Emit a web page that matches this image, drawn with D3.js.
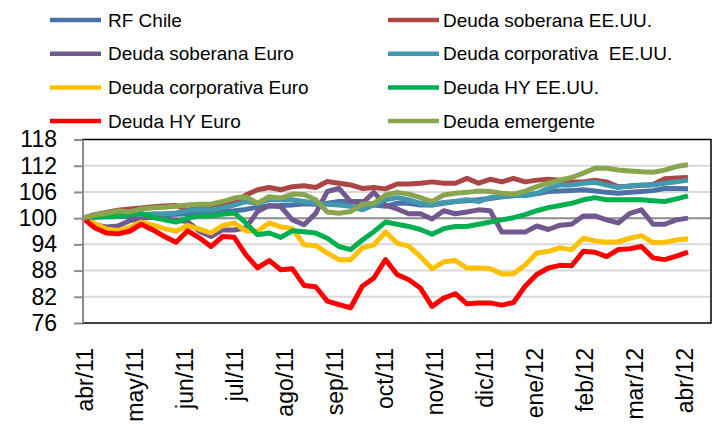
<!DOCTYPE html>
<html>
<head>
<meta charset="utf-8">
<script src="https://cdn.jsdelivr.net/npm/d3@7"></script>
<style>
  body { margin: 0; background: #fff; }
  text { font-family: "Liberation Sans", Arial, sans-serif; fill: #000; }
</style>
</head>
<body>
<svg id="chart" width="715" height="428"></svg>
<script>
// weekly index values, base 100 = abr/11
var rfChile = [100, 100.2, 100.3, 100.4, 100.5, 100.6, 100.7, 100.8, 100.9, 101.0, 101.1, 101.3, 101.5, 101.7, 102.0, 102.5, 102.7, 102.9, 103.0, 103.3, 103.2, 103.4, 103.8, 103.8, 103.8, 103.0, 102.7, 103.4, 103.4, 103.0, 103.0, 103.4, 103.8, 104.0, 104.2, 104.5, 104.9, 105.1, 105.3, 105.6, 106.1, 106.2, 106.3, 106.5, 106.2, 105.9, 105.7, 105.9, 106.1, 106.3, 106.8, 106.8, 106.7];
var soberanaUS = [100, 100.8, 101.3, 101.8, 102.1, 102.3, 102.6, 102.8, 102.9, 101.8, 102.3, 102.8, 103.0, 103.4, 105.3, 106.5, 107.0, 106.5, 107.2, 107.4, 107.0, 108.4, 108.0, 107.6, 106.8, 107.0, 106.7, 107.8, 107.8, 108.0, 108.3, 108.0, 108.0, 109.1, 108.0, 108.9, 108.3, 109.1, 108.3, 108.7, 108.9, 108.7, 108.3, 108.3, 108.7, 108.3, 107.2, 107.3, 107.5, 107.7, 109.0, 109.2, 109.3];
var soberanaEuro = [100, 98.5, 98.0, 98.2, 99.4, 100.0, 100.2, 99.8, 99.5, 99.2, 97.0, 95.8, 97.3, 97.3, 97.8, 101.5, 102.9, 102.6, 99.6, 98.5, 101.1, 106.1, 106.8, 103.8, 103.4, 105.9, 103.0, 102.1, 101.0, 101.0, 99.8, 101.7, 101.0, 101.4, 101.9, 101.7, 96.8, 96.8, 96.8, 98.2, 97.4, 98.4, 98.6, 100.5, 100.5, 99.6, 98.9, 101.1, 101.9, 98.6, 98.6, 99.6, 100.0];
var corporativaUS = [100, 100.3, 100.6, 100.8, 101.0, 100.8, 101.0, 101.0, 101.2, 101.7, 102.0, 101.9, 102.4, 103.0, 103.8, 103.4, 104.2, 104.2, 104.2, 103.8, 103.4, 103.2, 103.0, 102.7, 101.9, 103.0, 104.2, 104.7, 104.2, 103.4, 103.0, 103.6, 103.8, 104.2, 103.8, 104.7, 104.9, 105.3, 105.1, 105.7, 106.8, 107.6, 107.6, 108.0, 108.2, 107.6, 107.0, 107.4, 107.6, 107.6, 108.0, 108.3, 108.7];
var corporativaEuro = [100, 98.8, 97.5, 97.2, 97.8, 99.1, 98.4, 97.6, 97.0, 98.3, 97.5, 96.6, 98.3, 98.9, 97.1, 97.0, 98.9, 98.0, 97.6, 93.9, 93.7, 92.0, 90.5, 90.5, 93.2, 93.9, 96.8, 94.3, 93.6, 91.2, 88.4, 90.0, 90.3, 88.6, 88.6, 88.5, 87.2, 87.3, 89.3, 92.0, 92.4, 93.2, 92.8, 95.4, 94.8, 94.5, 94.6, 95.4, 96.0, 94.4, 94.5, 95.0, 95.3];
var hyUS = [100, 100.3, 100.4, 100.4, 100.8, 101.1, 100.2, 99.6, 99.1, 100.0, 100.5, 100.5, 100.9, 101.2, 98.9, 96.2, 96.6, 95.6, 97.1, 96.9, 96.6, 95.4, 93.5, 92.8, 95.0, 96.9, 99.1, 98.6, 98.1, 97.4, 96.3, 97.6, 98.1, 98.1, 98.6, 99.1, 99.6, 100.1, 100.8, 101.7, 102.4, 102.9, 103.4, 104.2, 104.7, 104.2, 104.2, 104.2, 104.2, 104.0, 103.8, 104.4, 105.1];
var hyEuro = [100, 97.8, 96.6, 96.4, 97.0, 98.6, 97.3, 95.8, 94.5, 97.1, 95.5, 93.5, 95.8, 95.6, 91.6, 88.6, 90.3, 88.2, 88.4, 84.6, 84.3, 81.0, 80.2, 79.5, 84.4, 86.3, 90.5, 87.1, 85.9, 84.0, 79.8, 81.7, 82.7, 80.4, 80.6, 80.6, 80.1, 80.7, 84.4, 87.1, 88.6, 89.2, 89.1, 92.4, 92.2, 91.2, 92.8, 93.0, 93.5, 90.9, 90.5, 91.3, 92.2];
var emergente = [100, 100.7, 101.1, 101.7, 101.4, 102.1, 102.4, 102.5, 102.7, 103.0, 103.2, 103.2, 103.8, 104.6, 104.9, 103.4, 104.9, 104.6, 105.5, 105.4, 104.2, 101.4, 101.1, 101.5, 103.2, 103.4, 105.3, 105.9, 105.5, 104.7, 103.8, 105.3, 105.7, 105.9, 106.2, 106.1, 105.7, 105.5, 106.2, 107.2, 108.0, 108.7, 109.3, 110.3, 111.4, 111.4, 111.0, 110.8, 110.6, 110.5, 111.0, 111.8, 112.2];

var months = ["abr/11", "may/11", "jun/11", "jul/11", "ago/11", "sep/11", "oct/11", "nov/11", "dic/11", "ene/12", "feb/12", "mar/12", "abr/12"];
var yTicks = [76, 82, 88, 94, 100, 106, 112, 118];

var series = [
    {name: "RF Chile", values: rfChile, color: "#4a72a8"},
    {name: "Deuda soberana EE.UU.", values: soberanaUS, color: "#aa4643"},
    {name: "Deuda soberana Euro", values: soberanaEuro, color: "#71588f"},
    {name: "Deuda corporativa  EE.UU.", values: corporativaUS, color: "#4198af"},
    {name: "Deuda corporativa Euro", values: corporativaEuro, color: "#ffc000"},
    {name: "Deuda HY EE.UU.", values: hyUS, color: "#00b050"},
    {name: "Deuda HY Euro", values: hyEuro, color: "#ff0000"},
    {name: "Deuda emergente", values: emergente, color: "#89a54e"}
];

var svg = d3.select("#chart"),
    plotLeft = 83, plotRight = 711, plotTop = 139.5, plotBottom = 323;

var x = d3.scaleLinear()
    .domain([0, rfChile.length - 1])
    .range([plotLeft, 688]);

var xMonth = d3.scalePoint()
    .domain(months)
    .range([85, 685]);

var y = d3.scaleLinear()
    .domain([76, 118])
    .range([plotBottom, plotTop]);

// gridlines
svg.append("g")
    .selectAll("line")
    .data(yTicks.filter(function(d) { return d > 76 && d < 118; }))
    .enter().append("line")
    .attr("x1", plotLeft)
    .attr("x2", plotRight)
    .attr("y1", function(d) { return y(d); })
    .attr("y2", function(d) { return y(d); })
    .attr("stroke", function(d) { return d === 100 ? "#8c8c8c" : "#d9d9d9"; })
    .attr("stroke-width", 2);

// y axis
var yAxis = svg.append("g")
    .attr("transform", "translate(" + plotLeft + ",0)")
    .call(d3.axisLeft(y).tickValues(yTicks).tickSize(9).tickPadding(17));
yAxis.select(".domain").remove();
yAxis.selectAll("line").attr("stroke", "#8c8c8c").attr("stroke-width", 2);
yAxis.selectAll("text")
    .style("font-size", "23px")
    .attr("fill", "#000");

// month labels (rotated)
svg.append("g")
    .selectAll("text")
    .data(months)
    .enter().append("text")
    .attr("transform", function(d) {
        return "translate(" + (xMonth(d) + 8) + "," + 348 + ") rotate(-90)";
    })
    .attr("text-anchor", "end")
    .style("font-size", "23px")
    .text(function(d) { return d; });

// lines
var line = d3.line()
    .x(function(d, i) { return x(i); })
    .y(function(d) { return y(d); });

svg.append("g")
    .selectAll("path")
    .data(series)
    .enter().append("path")
    .attr("d", function(d) { return line(d.values); })
    .attr("fill", "none")
    .attr("stroke", function(d) { return d.color; })
    .attr("stroke-width", 5)
    .attr("stroke-linejoin", "round");

// plot frame
svg.append("rect")
    .attr("x", plotLeft)
    .attr("y", plotTop)
    .attr("width", plotRight - plotLeft)
    .attr("height", plotBottom - plotTop)
    .attr("fill", "none")
    .attr("stroke", "#000")
    .attr("stroke-width", 1.5);
svg.append("line")
    .attr("x1", plotLeft).attr("x2", plotLeft)
    .attr("y1", plotTop).attr("y2", plotBottom)
    .attr("stroke", "#8c8c8c")
    .attr("stroke-width", 2);

// legend, two columns
var legend = svg.append("g")
    .selectAll("g")
    .data(series)
    .enter().append("g")
    .attr("transform", function(d, i) {
        var col = i % 2, row = Math.floor(i / 2);
        return "translate(" + (col ? 388 : 50) + "," + (20 + row * 33.7) + ")";
    });

legend.append("line")
    .attr("x1", 0)
    .attr("x2", 51)
    .attr("stroke", function(d) { return d.color; })
    .attr("stroke-width", 4.5);

legend.append("text")
    .attr("x", function(d, i) { return i % 2 ? 55 : 58; })
    .attr("dy", "0.35em")
    .style("font-size", "19px")
    .style("white-space", "pre")
    .text(function(d) { return d.name; });
</script>
</body>
</html>
